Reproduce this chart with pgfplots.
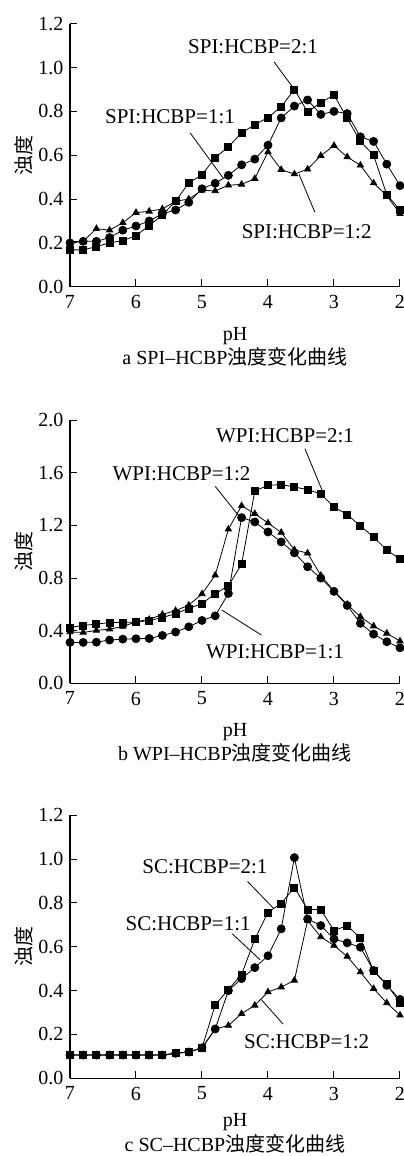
\documentclass[border=0pt]{standalone}
\usepackage{fontspec}
\setmainfont{Liberation Serif}
\newfontfamily\cjk{Noto Sans CJK SC}
\usepackage{pgfplots}
\usepackage{pgfplotstable}
\pgfplotsset{compat=1.18}

\pgfplotstableread{
pH  s21   s11   s12
7.0 0.168 0.200 0.205
6.8 0.168 0.207 0.207
6.6 0.183 0.207 0.265
6.4 0.200 0.224 0.258
6.2 0.210 0.258 0.292
6.0 0.233 0.277 0.338
5.8 0.279 0.300 0.344
5.6 0.327 0.333 0.355
5.4 0.390 0.350 0.390
5.2 0.474 0.385 0.400
5.0 0.510 0.447 0.440
4.8 0.589 0.472 0.437
4.6 0.638 0.508 0.463
4.4 0.702 0.556 0.467
4.2 0.739 0.582 0.493
4.0 0.772 0.646 0.615
3.8 0.821 0.770 0.534
3.6 0.900 0.824 0.514
3.4 0.797 0.852 0.536
3.2 0.840 0.786 0.598
3.0 0.875 0.800 0.644
2.8 0.768 0.790 0.592
2.6 0.663 0.684 0.554
2.4 0.600 0.663 0.473
2.2 0.420 0.559 0.415
2.0 0.350 0.461 0.333
}\tabA

\pgfplotstableread{
pH  s21   s11   s12
7.0 0.425 0.311 0.390
6.8 0.440 0.311 0.387
6.6 0.450 0.313 0.402
6.4 0.462 0.329 0.412
6.2 0.463 0.336 0.432
6.0 0.465 0.339 0.468
5.8 0.478 0.341 0.486
5.6 0.500 0.364 0.524
5.4 0.530 0.390 0.553
5.2 0.569 0.430 0.594
5.0 0.607 0.478 0.680
4.8 0.680 0.513 0.822
4.6 0.742 0.683 1.172
4.4 0.906 1.260 1.350
4.2 1.462 1.227 1.290
4.0 1.506 1.151 1.219
3.8 1.511 1.075 1.147
3.6 1.493 0.992 1.015
3.4 1.473 0.886 0.990
3.2 1.440 0.800 0.820
3.0 1.341 0.699 0.702
2.8 1.283 0.592 0.600
2.6 1.197 0.456 0.506
2.4 1.113 0.374 0.435
2.2 1.012 0.316 0.380
2.0 0.946 0.270 0.321
}\tabB

\pgfplotstableread{
pH  s21   s11   s12
7.0 0.106 0.106 0.106
6.8 0.106 0.106 0.106
6.6 0.106 0.106 0.106
6.4 0.106 0.106 0.106
6.2 0.106 0.106 0.106
6.0 0.106 0.106 0.106
5.8 0.106 0.106 0.106
5.6 0.106 0.106 0.106
5.4 0.114 0.114 0.114
5.2 0.120 0.120 0.120
5.0 0.139 0.139 0.139
4.8 0.335 0.225 0.225
4.6 0.405 0.400 0.241
4.4 0.474 0.455 0.295
4.2 0.635 0.505 0.333
4.0 0.757 0.559 0.394
3.8 0.798 0.682 0.416
3.6 0.871 1.007 0.447
3.4 0.770 0.727 0.720
3.2 0.770 0.697 0.645
3.0 0.674 0.636 0.606
2.8 0.697 0.618 0.556
2.6 0.639 0.598 0.485
2.4 0.489 0.492 0.409
2.2 0.429 0.424 0.344
2.0 0.345 0.360 0.288
}\tabC

\pgfplotsset{
 panel/.style={
  scale only axis, width=330pt, height=263pt,
  x dir=reverse, xmin=2, xmax=7, xtick={2,3,4,5,6,7},
  axis x line*=bottom, axis y line*=left,
  axis line style={-, line width=1.1pt},
  tick align=inside, major tick length=7.5pt,
  tick style={line width=1pt, black},
  tick label style={font=\fontsize{20}{24}\selectfont},
  /pgf/number format/assume math mode=true,
  yticklabel style={xshift=-3pt, /pgf/number format/fixed, /pgf/number format/fixed zerofill, /pgf/number format/precision=1},
  xticklabel style={yshift=-5pt},
  xlabel={pH}, ylabel={\cjk 浊度},
  label style={font=\fontsize{20}{24}\selectfont},
  xlabel style={at={(axis description cs:0.5,0)}, anchor=center, yshift=-49pt},
  ylabel style={at={(axis description cs:0,0.5)}, anchor=center, yshift=46.5pt},
  title style={at={(axis description cs:0.5,0)}, anchor=center, yshift=-76pt, font=\fontsize{20}{24}\selectfont},
  clip=false,
  every axis plot/.append style={black, line width=0.8pt},
 },
 sq/.style={mark=square*, mark size=3.5pt, mark options={fill=black}},
 ci/.style={mark=*, mark size=4pt, mark options={fill=black}},
 tr/.style={mark=triangle*, mark size=3.6pt, mark options={fill=black}},
}
\tikzset{ann/.style={font=\fontsize{21}{24}\selectfont}}

\begin{document}
\begin{tikzpicture}
% Panel a
\begin{axis}[panel, at={(0pt,0pt)}, anchor=south west,
  ymin=0, ymax=1.2, ytick={0,0.2,0.4,0.6,0.8,1.0,1.2},
  title={a SPI--HCBP{\cjk 浊度变化曲线}}]
\addplot[sq] table[x=pH, y=s21] {\tabA};
\addplot[ci] table[x=pH, y=s11] {\tabA};
\addplot[tr] table[x=pH, y=s12] {\tabA};
\node[ann] at (axis cs:4.227,1.095) {SPI:HCBP=2:1};
\draw[line width=0.8pt] (axis cs:3.909,1.026) -- (axis cs:3.62,0.908);
\node[ann] at (axis cs:5.485,0.775) {SPI:HCBP=1:1};
\draw[line width=0.8pt] (axis cs:5.18,0.702) -- (axis cs:4.68,0.496);
\node[ann] at (axis cs:3.414,0.251) {SPI:HCBP=1:2};
\draw[line width=0.8pt] (axis cs:3.29,0.34) -- (axis cs:3.53,0.513);
\end{axis}
% Panel b
\begin{axis}[panel, at={(0pt,-396.6pt)}, anchor=south west,
  ymin=0, ymax=2.0, ytick={0,0.4,0.8,1.2,1.6,2.0},
  title={b WPI--HCBP{\cjk 浊度变化曲线}}]
\addplot[sq] table[x=pH, y=s21] {\tabB};
\addplot[ci] table[x=pH, y=s11] {\tabB};
\addplot[tr] table[x=pH, y=s12] {\tabB};
\node[ann] at (axis cs:3.742,1.885) {WPI:HCBP=2:1};
\draw[line width=0.8pt] (axis cs:3.44,1.784) -- (axis cs:3.17,1.455);
\node[ann] at (axis cs:5.31,1.594) {WPI:HCBP=1:2};
\draw[line width=0.8pt] (axis cs:4.80,1.498) -- (axis cs:4.45,1.278);
\node[ann] at (axis cs:3.894,0.24) {WPI:HCBP=1:1};
\draw[line width=0.8pt] (axis cs:4.10,0.367) -- (axis cs:4.70,0.557);
\end{axis}
% Panel c
\begin{axis}[panel, at={(0pt,-791.6pt)}, anchor=south west,
  ymin=0, ymax=1.2, ytick={0,0.2,0.4,0.6,0.8,1.0,1.2},
  title style={yshift=4pt},
  xlabel style={yshift=5pt},
  title={c SC--HCBP{\cjk 浊度变化曲线}}]
\addplot[sq] table[x=pH, y=s21] {\tabC};
\addplot[ci] table[x=pH, y=s11] {\tabC};
\addplot[tr] table[x=pH, y=s12] {\tabC};
\node[ann] at (axis cs:4.955,0.965) {SC:HCBP=2:1};
\draw[line width=0.8pt] (axis cs:4.31,0.898) -- (axis cs:3.92,0.777);
\node[ann] at (axis cs:5.21,0.707) {SC:HCBP=1:1};
\draw[line width=0.8pt] (axis cs:4.54,0.659) -- (axis cs:4.12,0.541);
\node[ann] at (axis cs:3.414,0.166) {SC:HCBP=1:2};
\draw[line width=0.8pt] (axis cs:3.77,0.247) -- (axis cs:4.10,0.359);
\end{axis}
\pgfresetboundingbox
\useasboundingbox (-70pt,286.7pt) rectangle (334pt,-869.3pt);
\end{tikzpicture}
\end{document}
